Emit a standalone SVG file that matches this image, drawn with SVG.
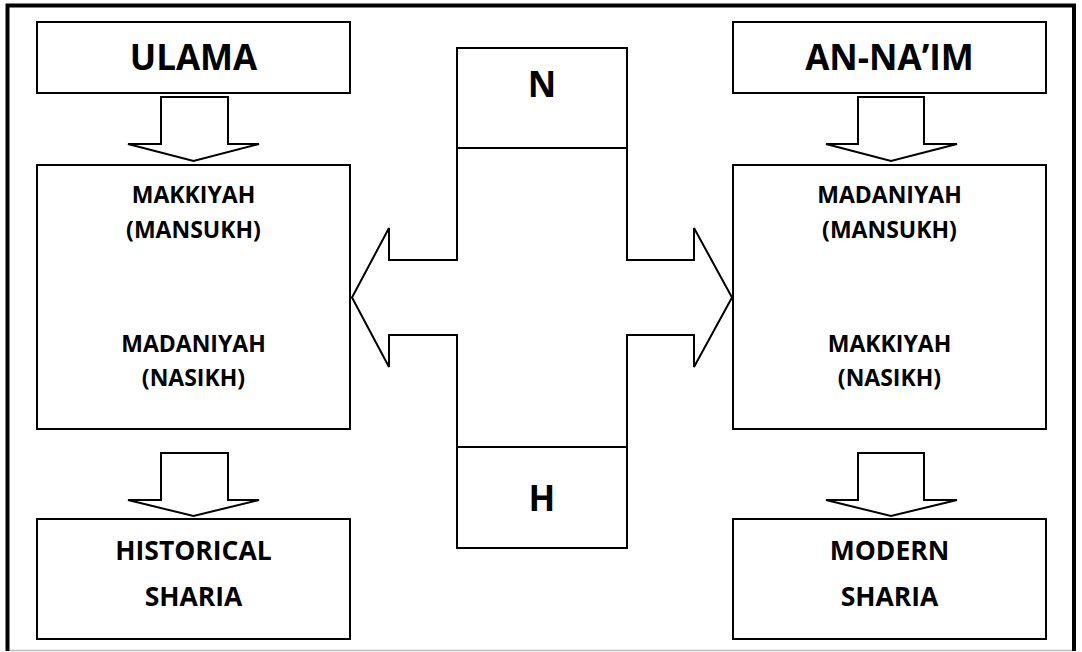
<svg xmlns="http://www.w3.org/2000/svg" width="1082" height="652" viewBox="0 0 1082 652">
<style>
.box{fill:#fff;stroke:#000;stroke-width:2}
.arr{fill:#fff;stroke:#000;stroke-width:2;stroke-linejoin:miter}
.t{font-family:"Open Sans","Noto Sans","Liberation Sans",sans-serif;font-weight:bold;fill:#000;text-anchor:middle}
.big{font-size:35px}
.mid{font-size:26.5px}
.sm{font-size:23px}
</style>
<rect x="0" y="0" width="1082" height="652" fill="#fff"/>
<g id="frame">
<line x1="9.5" y1="650.5" x2="1072" y2="650.5" stroke="#bdbdbd" stroke-width="1.5"/>
<path d="M7.5,651 V5.5 H1074 V651" fill="none" stroke="#000" stroke-width="4"/>
</g>
<g id="connectors">
<path class="arr" d="M161,97 H228 V144 H259 L193.5,161 L128,144 H161 Z"/>
<path class="arr" d="M161,453 H228 V500 H259 L193.5,516 L128,500 H161 Z"/>
<path class="arr" d="M858,97 H924 V144 H957 L891,161 L826,144 H858 Z"/>
<path class="arr" d="M858,453 H924 V500 H957 L891,516 L826,500 H858 Z"/>
<path id="cross" class="arr" d="M457,148 H627 V260 H694 V228 L732,297.5 L694,367 V335 H627 V447 H457 V335 H389 V367 L352,297.5 L389,228 V260 H457 Z"/>
</g>
<g id="ulama">
<rect class="box" x="37" y="22" width="313" height="71"/>
<text class="t big" x="193.5" y="70">ULAMA</text>
</g>
<g id="left-mid">
<rect class="box" x="37" y="165" width="313" height="264"/>
<text class="t sm" x="193.5" y="203">MAKKIYAH</text>
<text class="t sm" x="193.5" y="238">(MANSUKH)</text>
<text class="t sm" x="193.5" y="352">MADANIYAH</text>
<text class="t sm" x="193.5" y="386">(NASIKH)</text>
</g>
<g id="historical">
<rect class="box" x="37" y="519" width="313" height="120"/>
<text class="t mid" x="193.5" y="560">HISTORICAL</text>
<text class="t mid" x="193.5" y="606">SHARIA</text>
</g>
<g id="annaim">
<rect class="box" x="733" y="22" width="313" height="71"/>
<text class="t big" x="889.5" y="70">AN-NA’IM</text>
</g>
<g id="right-mid">
<rect class="box" x="733" y="165" width="313" height="264"/>
<text class="t sm" x="889.5" y="203">MADANIYAH</text>
<text class="t sm" x="889.5" y="238">(MANSUKH)</text>
<text class="t sm" x="889.5" y="352">MAKKIYAH</text>
<text class="t sm" x="889.5" y="386">(NASIKH)</text>
</g>
<g id="modern">
<rect class="box" x="733" y="519" width="313" height="120"/>
<text class="t mid" x="889.5" y="560">MODERN</text>
<text class="t mid" x="889.5" y="606">SHARIA</text>
</g>
<g id="n">
<rect class="box" x="457" y="48" width="170" height="100"/>
<text class="t big" x="542" y="97">N</text>
</g>
<g id="h">
<rect class="box" x="457" y="447" width="170" height="101"/>
<text class="t big" x="542" y="511">H</text>
</g>
</svg>
